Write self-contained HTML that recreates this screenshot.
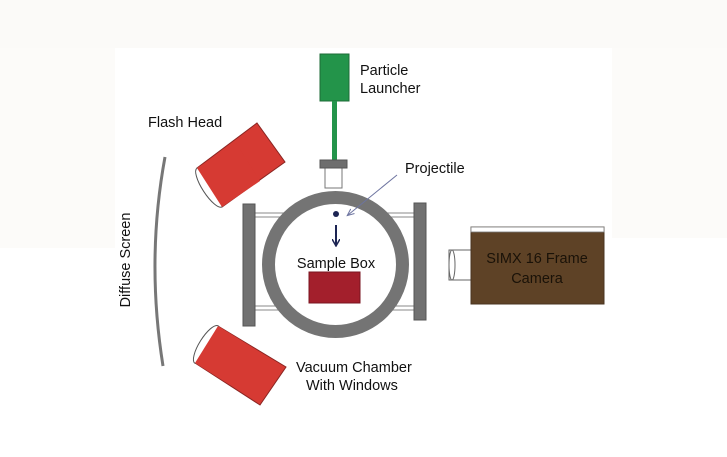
<!DOCTYPE html>
<html><head><style>
html,body{margin:0;padding:0;background:#fff;}
svg{display:block;}
text{font-family:"Liberation Sans",sans-serif;font-size:14.5px;fill:#111;}
</style></head><body>
<svg width="727" height="457" viewBox="0 0 727 457" xmlns="http://www.w3.org/2000/svg">
<rect width="727" height="457" fill="#fff"/>
<rect x="0" y="0" width="727" height="48" fill="#fbfaf8"/>
<rect x="0" y="48" width="115" height="200" fill="#fcfbf9"/>
<rect x="612" y="48" width="115" height="190" fill="#fcfbf9"/>
<defs><marker id="a" markerWidth="8" markerHeight="8" refX="6" refY="4" orient="auto" markerUnits="userSpaceOnUse"><path d="M0,0 L7,4 L0,8" fill="none" stroke="#1c2453" stroke-width="1.5"/></marker>
<marker id="b" markerWidth="8" markerHeight="8" refX="6" refY="4" orient="auto" markerUnits="userSpaceOnUse"><path d="M0,1 L7,4 L0,7" fill="none" stroke="#6d74a0" stroke-width="1"/></marker></defs>
<rect x="320" y="54" width="29" height="47" fill="#23944a" stroke="#1c6b37"/>
<rect x="332" y="101" width="5" height="59" fill="#23944a"/>
<rect x="325" y="168" width="17" height="20" fill="#fff" stroke="#777"/>
<rect x="320" y="160" width="27" height="8" fill="#6e6e6e" stroke="#555"/>
<g stroke="#888" stroke-width="1" fill="#fff">
<rect x="255" y="213" width="160" height="4"/>
<rect x="255" y="306" width="160" height="4"/>
</g>
<rect x="243" y="204" width="12" height="122" fill="#717171" stroke="#555"/>
<rect x="414" y="203" width="12" height="117" fill="#717171" stroke="#555"/>
<circle cx="335.5" cy="264.5" r="67" fill="#fff" stroke="#747474" stroke-width="13"/>
<circle cx="336" cy="214" r="3" fill="#1c2453"/>
<line x1="336" y1="225" x2="336" y2="245" stroke="#1c2453" stroke-width="2" marker-end="url(#a)"/>
<line x1="397" y1="175" x2="348" y2="215" stroke="#6d74a0" stroke-width="1" marker-end="url(#b)"/>
<text x="336" y="268" text-anchor="middle">Sample Box</text>
<rect x="309" y="272" width="51" height="31" fill="#a31f2c" stroke="#7a1520"/>
<rect x="449" y="250" width="24" height="30" fill="#fff" stroke="#666"/>
<ellipse cx="452" cy="265" rx="3" ry="15" fill="#fff" stroke="#666"/>
<rect x="471" y="227" width="133" height="77" fill="#5e4226" stroke="#4a3420"/>
<rect x="471" y="227" width="133" height="5" fill="#fff" stroke="#777" stroke-width="0.8"/>
<text x="537" y="263" text-anchor="middle" style="fill:#1a1208">SIMX 16 Frame</text>
<text x="537" y="283" text-anchor="middle" style="fill:#1a1208">Camera</text>
<polygon points="257,123 285,162 222,207 197,168" fill="#d63a33" stroke="#8a2522"/>
<ellipse cx="209.5" cy="187.5" rx="23" ry="7" transform="rotate(57 209.5 187.5)" fill="#fff" stroke="#555"/>
<polygon points="197,168 222,207 260,181 236,143" fill="#d63a33"/>
<polygon points="218,326 286,367 260,405 195,363" fill="#d63a33" stroke="#8a2522"/>
<ellipse cx="206.5" cy="344.5" rx="22" ry="7" transform="rotate(-58 206.5 344.5)" fill="#fff" stroke="#555"/>
<polygon points="218,326 195,363 230,385 252,347" fill="#d63a33"/>
<path d="M165,157 Q146,260 163,366" fill="none" stroke="#777" stroke-width="3"/>
<text transform="translate(130,260) rotate(-90)" text-anchor="middle">Diffuse Screen</text>
<text x="148" y="127">Flash Head</text>
<text x="360" y="75">Particle</text>
<text x="360" y="93">Launcher</text>
<text x="405" y="173">Projectile</text>
<text x="296" y="372">Vacuum Chamber</text>
<text x="306" y="390">With Windows</text>
</svg>
</body></html>
